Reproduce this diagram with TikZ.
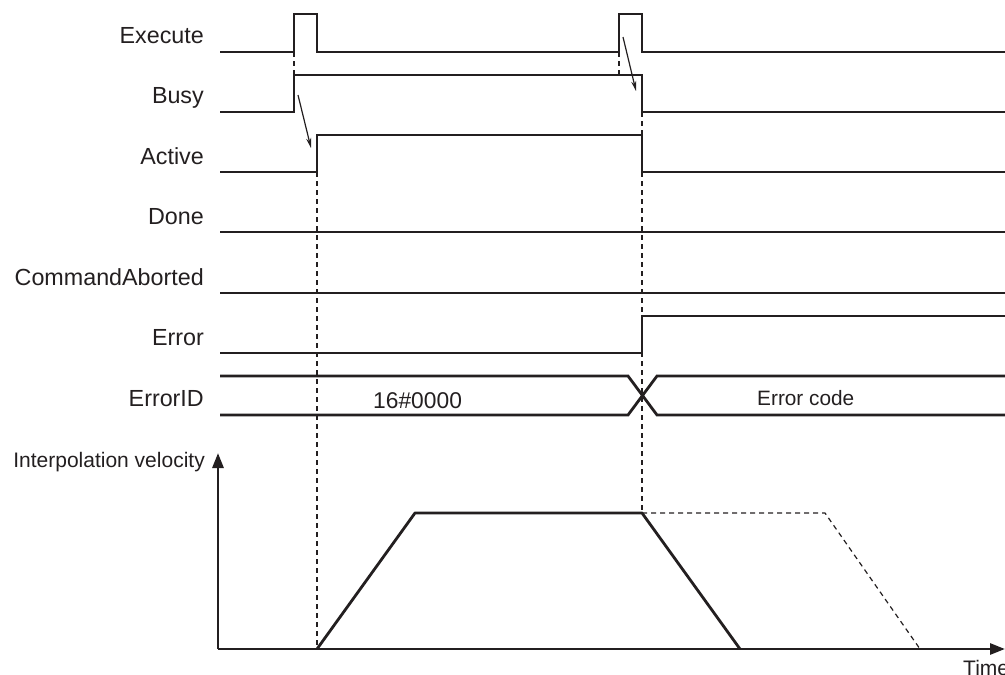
\documentclass[tikz,border=0pt]{standalone}
\usepackage{fontspec}
\setmainfont{Liberation Sans}
\usetikzlibrary{arrows.meta}
\definecolor{ink}{HTML}{231F20}
\begin{document}
\begin{tikzpicture}[x=1pt,y=-1pt,
  sig/.style={draw=ink,line width=2.8pt,line join=miter},
  guide/.style={draw=ink,line width=1.2pt,dash pattern=on 5pt off 4pt},
  cause/.style={draw=ink,line width=1.2pt,-{Stealth[length=10pt,width=5pt]}},
  lbl/.style={anchor=base east,text=ink,inner sep=0pt,font=\fontsize{23.3}{27}\selectfont},
  val/.style={anchor=base west,text=ink,inner sep=0pt}]
\useasboundingbox (0,0) rectangle (1005,675);
% labels
\node[lbl] (lExecute) at (204,43) {Execute};
\node[lbl] (lBusy) at (204,103) {Busy};
\node[lbl] (lActive) at (204,164) {Active};
\node[lbl] (lDone) at (204,224) {Done};
\node[lbl] (lCmd) at (204,285) {CommandAborted};
\node[lbl] (lError) at (204,345) {Error};
\node[lbl] (lErrorID) at (204,406) {ErrorID};
% guide lines
\draw[guide] (294,52) -- (294,75);
\draw[guide] (619,52) -- (619,75);
\draw[guide] (642,112) -- (642,135);
\draw[guide] (317,172) -- (317,649);
\draw[guide] (642,172) -- (642,513);
% signals
\draw[sig] (220,52) -- (294,52) -- (294,14) -- (317,14) -- (317,52) -- (619,52) -- (619,14) -- (642,14) -- (642,52) -- (1005,52);
\draw[sig] (220,112) -- (294,112) -- (294,75) -- (642,75) -- (642,112) -- (1005,112);
\draw[sig] (220,172) -- (317,172) -- (317,135) -- (642,135) -- (642,172) -- (1005,172);
\draw[sig] (220,232) -- (1005,232);
\draw[sig] (220,293) -- (1005,293);
\draw[sig] (220,353) -- (642,353) -- (642,316) -- (1005,316);
\draw[sig] (220,376) -- (628,376) -- (657,415) -- (1005,415);
\draw[sig] (220,415) -- (628,415) -- (657,376) -- (1005,376);
\node[val,font=\fontsize{22.8}{26}\selectfont] (v0) at (373,408) {16\#0000};
\node[val,font=\fontsize{20.8}{24}\selectfont] (v1) at (757,405) {Error code};
% cause arrows
\coordinate (a1s) at (298,95); \coordinate (a1e) at (311,148);
\coordinate (a2s) at (623,37); \coordinate (a2e) at (636,91);
\draw[cause] (a1s) -- (a1e);
\draw[cause] (a2s) -- (a2e);
% velocity graph
\coordinate (O) at (218,649);
\coordinate (Ytop) at (218,453);
\coordinate (Xend) at (1005,649);
\draw[draw=ink,line width=2.8pt,-{Triangle[length=15pt,width=11pt]}] (O) -- (Ytop);
\draw[draw=ink,line width=2.8pt,-{Triangle[length=15pt,width=11pt]}] (O) -- (Xend);
\node[lbl,font=\fontsize{21}{25}\selectfont] (lVel) at (205,467) {Interpolation velocity};
\node[val,font=\fontsize{21}{25}\selectfont] (lTime) at (963,675) {Time};
\draw[sig,line join=round] (317,649) -- (415,513) -- (642,513) -- (740,649);
\draw[guide] (642,513) -- (825,513) -- (920,649);
\end{tikzpicture}
\end{document}
